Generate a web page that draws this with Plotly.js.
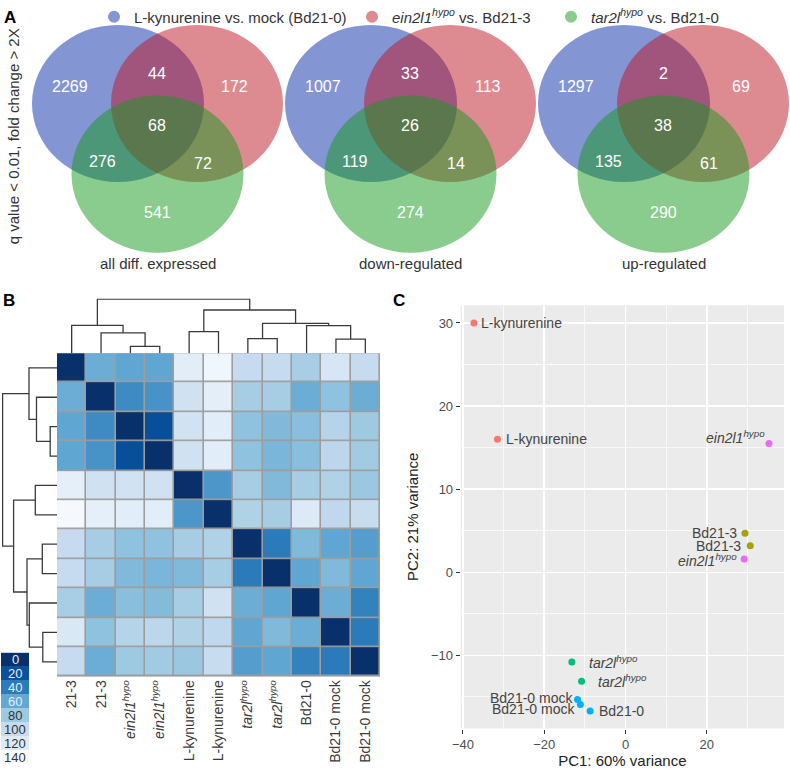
<!DOCTYPE html>
<html>
<head>
<meta charset="utf-8">
<script src="https://cdn.plot.ly/plotly-3.0.1.min.js"></script>
<style>html,body{margin:0;padding:0;background:#fff;}#chart{width:790px;height:769px;}</style>
</head>
<body>
<div id="chart"></div>
<script>
// ---------------- DATA ----------------
// Panel A: Venn counts, order = [A only, A&B, B only, A&B&C, A&C, B&C, C only]
const vennTitles = ['all diff. expressed', 'down-regulated', 'up-regulated'];
const vennAll  = [2269, 44, 172, 68, 276, 72, 541];
const vennDown = [1007, 33, 113, 26, 119, 14, 274];
const vennUp   = [1297, 2, 69, 38, 135, 61, 290];
const vennSetNames = ['L-kynurenine vs. mock (Bd21-0)',
                      '<i>ein2l1</i><sup><i>hypo</i></sup> vs. Bd21-3',
                      '<i>tar2l</i><sup><i>hypo</i></sup> vs. Bd21-0'];
const vennYTitle = 'q value < 0.01, fold change > 2X';

// Panel B: sample distance heatmap (rows/cols in dendrogram order)
const sampleLabels = ['21-3', '21-3', '<i>ein2l1</i><sup><i>hypo</i></sup>', '<i>ein2l1</i><sup><i>hypo</i></sup>',
  'L-kynurenine', 'L-kynurenine', '<i>tar2l</i><sup><i>hypo</i></sup>', '<i>tar2l</i><sup><i>hypo</i></sup>',
  'Bd21-0', 'Bd21-0 mock', 'Bd21-0 mock'];
const distRow1  = [0, 63, 59, 59, 123, 134, 100, 100, 85, 114, 100];
const distRow2  = [63, 0, 47, 50, 108, 124, 84, 84, 63, 75, 63];
const distRow3  = [59, 47, 0, 19, 109, 122, 75, 70, 73, 92, 80];
const distRow4  = [59, 50, 19, 0, 108, 122, 75, 68, 73, 95, 81];
const distRow5  = [125, 108, 109, 108, 0, 52, 84, 70, 84, 89, 79];
const distRow6  = [138, 125, 122, 122, 52, 0, 89, 84, 118, 97, 101];
const distRow7  = [100, 84, 75, 75, 84, 89, 0, 40, 70, 59, 55];
const distRow8  = [100, 84, 70, 68, 70, 84, 40, 0, 59, 70, 59];
const distRow9  = [85, 63, 73, 71, 84, 108, 63, 59, 0, 63, 43];
const distRow10 = [116, 75, 92, 95, 89, 97, 59, 70, 63, 0, 40];
const distRow11 = [100, 63, 80, 81, 79, 101, 55, 59, 43, 40, 0];
// hierarchical clustering (hclust-style merge: negative = leaf position)
const mergeLeft   = [-3, -2, -1, -5, -7, -10, -9, 5, 4, 3];
const mergeRight  = [-4, 1, 2, -6, -8, -11, 6, 7, 8, 9];
const mergeHeight = [6.8, 20.5, 28, 21.7, 14.7, 14.2, 27.7, 30, 43.4, 54.4];
const legendValues = [0, 20, 40, 60, 80, 100, 120, 140];

// Panel C: PCA
const pcaLabels = ['L-kynurenine', 'L-kynurenine', '<i>ein2l1<sup>hypo</sup></i>', 'Bd21-3', 'Bd21-3',
  '<i>ein2l1<sup>hypo</sup></i>', '<i>tar2l<sup>hypo</sup></i>', '<i>tar2l<sup>hypo</sup></i>',
  'Bd21-0 mock', 'Bd21-0 mock', 'Bd21-0'];
const pcaGroup = ['L-kynurenine', 'L-kynurenine', 'ein2l1', 'Bd21-3', 'Bd21-3', 'ein2l1', 'tar2l', 'tar2l',
  'Bd21-0', 'Bd21-0', 'Bd21-0'];
const pc1 = [-37.3, -31.5, 35.3, 29.4, 30.7, 29.2, -13.2, -10.8, -11.8, -11.1, -8.7];
const pc2 = [30.0, 16.0, 15.5, 4.7, 3.2, 1.6, -10.8, -13.1, -15.3, -15.9, -16.7];

// ---------------- STYLE ----------------
const W = 790, H = 769;
const FONT = 'Liberation Sans, Arial, Helvetica, sans-serif';
const px = v => v / W;
const py = v => 1 - v / H;
const groupColor = {'L-kynurenine': '#F8766D', 'Bd21-3': '#A3A500', 'tar2l': '#00BF7D', 'Bd21-0': '#00B0F6', 'ein2l1': '#E76BF3'};
// label placement: [anchor, xshift, yshift]
const pcaLabelPlace = [['left', 6, 0], ['left', 8, 0], ['right', -3, 6], ['right', -7, 0], ['right', -8, 0],
  ['right', -6, -1], ['left', 16, 0], ['left', 15, 0], ['right', -4, 1], ['right', -4, -5], ['left', 8, 0]];
const blues = [[0, '#08306b'], [20/140, '#08519c'], [40/140, '#2b7bba'], [60/140, '#62a8d3'],
  [80/140, '#9ecae1'], [100/140, '#c6dbef'], [120/140, '#deebf7'], [1, '#f7fbff']];
const vennFill = ['rgb(9,43,169)', 'rgb(189,21,35)', 'rgb(21,153,29)'];
const vennTint = ['#8595d4', '#de8a91', '#8acc8e'];

// Venn geometry (pixels)
const vennX0 = 118, vennStep = 253, vennCY = 100, vennGY = 171, vennRX = 86, vennRY = 79;
const circleOffsets = [[0, vennCY], [79, vennCY], [39.5, vennGY]];
const numOffsets = [[-48, 83], [39, 70], [117, 83], [39, 122], [-16, 158], [85, 160], [39, 210]];

const shapes = [];
const annotations = [];
const vennData = [vennAll, vennDown, vennUp];
vennData.forEach((counts, k) => {
  const bx = vennX0 + vennStep * k;
  circleOffsets.forEach((o, j) => {
    const cx = bx + o[0], cy = o[1];
    shapes.push({type: 'circle', xref: 'paper', yref: 'paper',
      x0: px(cx - vennRX), x1: px(cx + vennRX), y0: py(cy + vennRY), y1: py(cy - vennRY),
      fillcolor: vennFill[j], opacity: 0.5, line: {width: 0}});
  });
  counts.forEach((c, j) => {
    annotations.push({xref: 'paper', yref: 'paper', x: px(bx + numOffsets[j][0]), y: py(numOffsets[j][1]),
      text: String(c), showarrow: false, xanchor: 'center', yanchor: 'middle',
      font: {family: FONT, size: 16, color: '#ffffff'}});
  });
  annotations.push({xref: 'paper', yref: 'paper', x: px(bx + 39.5), y: py(261), text: vennTitles[k],
    showarrow: false, xanchor: 'center', yanchor: 'middle', font: {family: FONT, size: 15, color: '#333'}});
});
annotations.push({xref: 'paper', yref: 'paper', x: px(13), y: py(133), text: vennYTitle, textangle: -90,
  showarrow: false, xanchor: 'center', yanchor: 'middle', font: {family: FONT, size: 15, color: '#333'}});
// panel letters
[['A', 10, 14], ['B', 9, 298], ['C', 399, 298]].forEach(l => {
  annotations.push({xref: 'paper', yref: 'paper', x: px(l[1]), y: py(l[2]), text: '<b>' + l[0] + '</b>',
    showarrow: false, xanchor: 'center', yanchor: 'middle', font: {family: FONT, size: 17, color: '#000'}});
});

// ---------------- TRACES ----------------
const traces = [];
// legend dummy traces for the Venn sets
['legend', 'legend2', 'legend3'].forEach((lg, i) => {
  traces.push({type: 'scatter', x: [null], y: [null], mode: 'markers', name: vennSetNames[i],
    marker: {size: 15, color: vennTint[i], symbol: 'circle'}, legend: lg, showlegend: true,
    xaxis: 'x5', yaxis: 'y5', hoverinfo: 'skip'});
});

// heatmap
const z = [distRow1, distRow2, distRow3, distRow4, distRow5, distRow6, distRow7, distRow8, distRow9, distRow10, distRow11];
const idx = sampleLabels.map((_, i) => i);
traces.push({type: 'heatmap', z: z, x: idx, y: idx, colorscale: blues, zmin: 0, zmax: 140,
  showscale: false, xgap: 1.6, ygap: 1.6, xaxis: 'x', yaxis: 'y', hoverinfo: 'z'});
shapes.push({type: 'rect', xref: 'x', yref: 'y', x0: -0.5, x1: 10.5, y0: -0.5, y1: 10.5,
  fillcolor: '#9d9d9d', line: {color: '#9d9d9d', width: 1.2}, layer: 'below'});

// dendrograms
function dendro() {
  const pos = [], hgt = [], xs = [], ys = [];
  const node = k => k < 0 ? [-k - 1, 0] : [pos[k - 1], hgt[k - 1]];
  mergeLeft.forEach((l, i) => {
    const [a, ah] = node(l), [b, bh] = node(mergeRight[i]), h = mergeHeight[i];
    xs.push(a, a, b, b, null); ys.push(ah, h, h, bh, null);
    pos[i] = (a + b) / 2; hgt[i] = h;
  });
  return {xs, ys};
}
const dd = dendro();
traces.push({type: 'scatter', mode: 'lines', x: dd.xs, y: dd.ys, xaxis: 'x2', yaxis: 'y2',
  line: {color: '#3a3a3a', width: 1.3}, hoverinfo: 'skip', showlegend: false});
traces.push({type: 'scatter', mode: 'lines', x: dd.ys, y: dd.xs, xaxis: 'x3', yaxis: 'y3',
  line: {color: '#3a3a3a', width: 1.3}, hoverinfo: 'skip', showlegend: false});

// color key
traces.push({type: 'heatmap', z: legendValues.map(v => [v]), x: [0], y: legendValues.map((_, i) => i),
  colorscale: blues, zmin: 0, zmax: 140, showscale: false, xaxis: 'x4', yaxis: 'y4', hoverinfo: 'skip'});
legendValues.forEach((v, i) => {
  annotations.push({xref: 'x4', yref: 'y4', x: 0, y: i, text: String(v), showarrow: false,
    xanchor: 'center', yanchor: 'middle', borderpad: 0,
    font: {family: FONT, size: 13, color: v <= 60 ? '#e6eef8' : '#333'}});
});

// PCA
traces.push({type: 'scatter', mode: 'markers', x: pc1, y: pc2, xaxis: 'x5', yaxis: 'y5',
  marker: {size: 7, color: pcaGroup.map(g => groupColor[g])}, hoverinfo: 'x+y', showlegend: false});
shapes.push({type: 'rect', xref: 'x5 domain', yref: 'y5 domain', x0: 0, x1: 1, y0: 0, y1: 1,
  fillcolor: '#EBEBEB', line: {width: 0}, layer: 'below'});
pcaLabels.forEach((t, i) => {
  const p = pcaLabelPlace[i];
  annotations.push({xref: 'x5', yref: 'y5', x: pc1[i], y: pc2[i], text: t, showarrow: false,
    xanchor: p[0], yanchor: 'middle', xshift: p[1], yshift: p[2], borderpad: 0,
    font: {family: FONT, size: 14, color: '#444'}});
});

// ---------------- LAYOUT ----------------
const hidden = {visible: false, fixedrange: true, showgrid: false, zeroline: false};
const hmX = [px(57), px(380)], hmY = [py(676), py(351)];
const legendBase = {orientation: 'v', xanchor: 'left', yanchor: 'middle', y: py(13),
  bgcolor: 'rgba(0,0,0,0)', font: {family: FONT, size: 15, color: '#333'}, itemsizing: 'constant'};

const layout = {
  width: W, height: H, margin: {l: 0, r: 0, t: 0, b: 0, pad: 0},
  paper_bgcolor: '#ffffff', plot_bgcolor: 'rgba(0,0,0,0)',
  font: {family: FONT, color: '#333'},
  showlegend: true,
  legend: Object.assign({}, legendBase, {x: px(94)}),
  legend2: Object.assign({}, legendBase, {x: px(352)}),
  legend3: Object.assign({}, legendBase, {x: px(551)}),
  xaxis: {domain: hmX, range: [-0.5, 10.5], tickvals: idx, ticktext: sampleLabels, tickangle: -90,
    ticks: '', showgrid: false, zeroline: false, showline: false, fixedrange: true,
    tickfont: {family: FONT, size: 14, color: '#3a3a3a'}, anchor: 'y'},
  yaxis: Object.assign({}, hidden, {domain: hmY, range: [10.5, -0.5], anchor: 'x'}),
  xaxis2: Object.assign({}, hidden, {domain: hmX, range: [-0.5, 10.5], anchor: 'y2'}),
  yaxis2: Object.assign({}, hidden, {domain: [py(351), py(296)], range: [0, 55], anchor: 'x2'}),
  xaxis3: Object.assign({}, hidden, {domain: [px(2), px(57)], range: [55, 0], anchor: 'y3'}),
  yaxis3: Object.assign({}, hidden, {domain: hmY, range: [10.5, -0.5], anchor: 'x3'}),
  xaxis4: Object.assign({}, hidden, {domain: [px(1), px(29)], range: [-0.5, 0.5], anchor: 'y4'}),
  yaxis4: Object.assign({}, hidden, {domain: [py(764), py(652)], range: [7.5, -0.5], anchor: 'x4'}),
  xaxis5: {domain: [px(460.7), px(784)], range: [-40.55, 39.0], anchor: 'y5',
    tick0: 0, dtick: 20, ticks: 'outside', ticklen: 4, tickwidth: 1, tickcolor: '#333',
    showgrid: true, gridcolor: '#ffffff', gridwidth: 1.5, zeroline: false, showline: false, fixedrange: true,
    minor: {dtick: 10, showgrid: true, gridcolor: '#ffffff', gridwidth: 0.7, ticks: ''},
    tickfont: {family: FONT, size: 13, color: '#4d4d4d'},
    title: {text: 'PC1: 60% variance', font: {family: FONT, size: 15, color: '#222'}, standoff: 6}},
  yaxis5: {domain: [py(728.3), py(302.7)], range: [-18.8, 32.15], anchor: 'x5',
    tick0: 0, dtick: 10, ticks: 'outside', ticklen: 4, tickwidth: 1, tickcolor: '#333',
    showgrid: true, gridcolor: '#ffffff', gridwidth: 1.5, zeroline: false, showline: false, fixedrange: true,
    minor: {dtick: 5, showgrid: true, gridcolor: '#ffffff', gridwidth: 0.7, ticks: ''},
    tickfont: {family: FONT, size: 13, color: '#4d4d4d'},
    title: {text: 'PC2: 21% variance', font: {family: FONT, size: 15, color: '#222'}, standoff: 8}},
  shapes: shapes,
  annotations: annotations
};

Plotly.newPlot('chart', traces, layout, {staticPlot: true, displayModeBar: false});
</script>
</body>
</html>
